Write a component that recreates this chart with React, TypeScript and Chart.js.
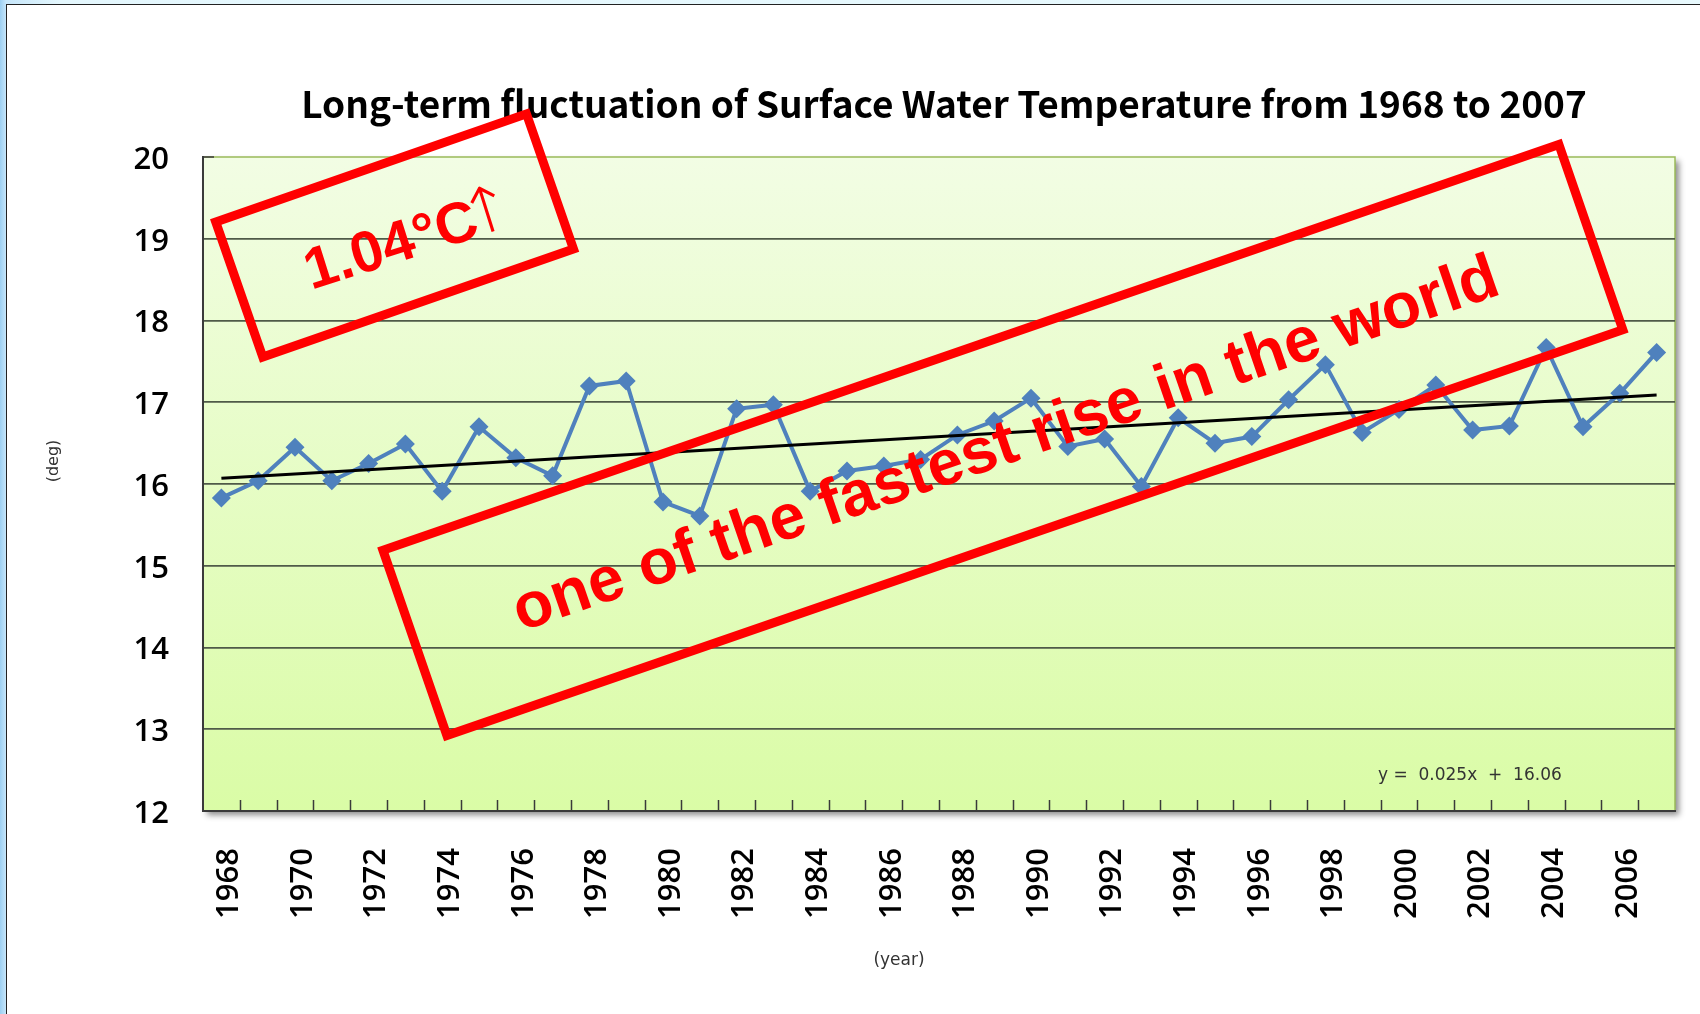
import React, { useEffect, useRef } from 'react';
import { Chart, registerables } from 'chart.js';

Chart.register(...registerables);

// ---------- data ----------
const years = [
  '1968', '1969', '1970', '1971', '1972', '1973', '1974', '1975', '1976', '1977',
  '1978', '1979', '1980', '1981', '1982', '1983', '1984', '1985', '1986', '1987',
  '1988', '1989', '1990', '1991', '1992', '1993', '1994', '1995', '1996', '1997',
  '1998', '1999', '2000', '2001', '2002', '2003', '2004', '2005', '2006', '2007',
];

const temperature = [
  15.83, 16.04, 16.45, 16.04, 16.25, 16.49, 15.91, 16.70, 16.32, 16.10,
  17.20, 17.26, 15.78, 15.61, 16.92, 16.97, 15.91, 16.16, 16.22, 16.30,
  16.60, 16.77, 17.05, 16.46, 16.55, 15.97, 16.81, 16.50, 16.58, 17.03,
  17.46, 16.63, 16.91, 17.21, 16.66, 16.71, 17.67, 16.70, 17.11, 17.61,
];

// trend line end values
const trendStart = 16.07;
const trendEnd = 17.09;

const yMin = 12;
const yMax = 20;

const titleText = 'Long-term fluctuation of Surface Water Temperature from 1968 to 2007';
const yAxisTitle = '(deg)';
const xAxisTitle = '(year)';
const equationText = 'y =  0.025x  +  16.06';
const note1Digits = '1.04';
const note1Unit = '°C';
const note1Arrow = '↑';
const note2Text = 'one of the fastest rise in the world';

// annotation anchors in data space (category index, value)
const note1Anchor = [4.707, 19.04];
const note2Anchor = [21.236, 16.538];

// ---------- styles ----------
const BLUE = '#4f81bd';
const RED = '#ff0000';
const GRID = '#4f5a48';
const AXIS = '#3a3a3a';
const LABEL_FONT = '"Open Sans", "Noto Sans", sans-serif';

function drawRotatedBox(ctx: CanvasRenderingContext2D, cx: number, cy: number, w: number, h: number, deg: number) {
  ctx.save();
  ctx.translate(cx, cy);
  ctx.rotate((deg * Math.PI) / 180);
  ctx.strokeStyle = RED;
  ctx.lineWidth = 9;
  ctx.lineJoin = 'miter';
  ctx.strokeRect(-w / 2, -h / 2, w, h);
  ctx.restore();
}

const decorPlugin = {
  id: 'decor',
  beforeDraw(chart: any) {
    const { ctx, chartArea: a } = chart;
    // plot background with shadow
    ctx.save();
    const g = ctx.createLinearGradient(0, a.top, 0, a.bottom);
    g.addColorStop(0, '#f2fde4');
    g.addColorStop(1, '#dafca6');
    ctx.shadowColor = 'rgba(0,0,0,0.45)';
    ctx.shadowBlur = 6;
    ctx.shadowOffsetX = 4;
    ctx.shadowOffsetY = 4;
    ctx.fillStyle = g;
    ctx.fillRect(a.left, a.top, a.right - a.left, a.bottom - a.top);
    ctx.restore();

    // green top/right border
    ctx.save();
    ctx.strokeStyle = '#9bbb59';
    ctx.lineWidth = 1.5;
    ctx.beginPath();
    ctx.moveTo(a.left, a.top);
    ctx.lineTo(a.right, a.top);
    ctx.lineTo(a.right, a.bottom);
    ctx.stroke();
    ctx.restore();

    // title
    ctx.save();
    ctx.fillStyle = '#000';
    ctx.font = 'bold 37px "Noto Sans CJK KR", "Noto Sans", sans-serif';
    ctx.textAlign = 'center';
    ctx.textBaseline = 'alphabetic';
    ctx.fillText(titleText, (a.left + a.right) / 2 + 5, 118);
    ctx.restore();
  },
  beforeDatasetsDraw(chart: any) {
    const { ctx, chartArea: a, scales } = chart;
    const xs = scales.x;
    ctx.save();
    ctx.strokeStyle = AXIS;
    ctx.lineWidth = 1.5;
    ctx.beginPath();
    for (let i = 1; i < years.length; i++) {
      const x = Math.round(xs.getPixelForValue(i - 0.5)) + 0.5;
      ctx.moveTo(x, a.bottom);
      ctx.lineTo(x, a.bottom - 11);
    }
    // small inward tick at the top of y axis
    ctx.moveTo(a.left, a.top);
    ctx.lineTo(a.left + 11, a.top);
    ctx.stroke();
    ctx.restore();
  },
  afterDraw(chart: any) {
    const { ctx, chartArea: a, scales } = chart;
    const xs = scales.x;
    const ys = scales.y;

    // axis titles
    ctx.save();
    ctx.fillStyle = '#333';
    ctx.font = '16px "DejaVu Sans", sans-serif';
    ctx.textAlign = 'center';
    ctx.textBaseline = 'middle';
    ctx.translate(54, 461);
    ctx.rotate(-Math.PI / 2);
    ctx.fillText(yAxisTitle, 0, 0);
    ctx.restore();

    ctx.save();
    ctx.fillStyle = '#333';
    ctx.font = '17px "DejaVu Sans", sans-serif';
    ctx.textAlign = 'center';
    ctx.textBaseline = 'middle';
    ctx.fillText(xAxisTitle, 899, 961);
    ctx.restore();

    // regression equation
    ctx.save();
    ctx.fillStyle = '#333';
    ctx.font = '17px "DejaVu Sans", sans-serif';
    ctx.textAlign = 'left';
    ctx.textBaseline = 'alphabetic';
    ctx.fillText(equationText, a.right - 297, 780);
    ctx.restore();

    // annotation 1
    const c1x = xs.getPixelForValue(note1Anchor[0]);
    const c1y = ys.getPixelForValue(note1Anchor[1]);
    drawRotatedBox(ctx, c1x, c1y, 329, 143, -19.2);
    ctx.save();
    ctx.translate(c1x + 2.4, c1y + 24);
    ctx.rotate((-17.5 * Math.PI) / 180);
    ctx.fillStyle = RED;
    ctx.textBaseline = 'alphabetic';
    ctx.textAlign = 'left';
    const fDigits = 'bold 58px "Liberation Sans", Arial, sans-serif';
    const fUnit = 'bold 58px "Liberation Sans Narrow", "Liberation Sans", sans-serif';
    const fArrow = '200 64px "DejaVu Sans", sans-serif';
    ctx.font = fDigits;
    const w1 = ctx.measureText(note1Digits).width;
    ctx.font = fUnit;
    const w2 = ctx.measureText(note1Unit).width;
    const start = -91;
    ctx.font = fDigits;
    ctx.fillText(note1Digits, start, 3);
    ctx.font = fUnit;
    ctx.fillText(note1Unit, start + w1 + 1, 3);
    ctx.font = fArrow;
    ctx.textAlign = 'center';
    ctx.fillText(note1Arrow, start + w1 + w2 + 13, 2);
    ctx.restore();

    // annotation 2
    const c2x = xs.getPixelForValue(note2Anchor[0]);
    const c2y = ys.getPixelForValue(note2Anchor[1]);
    drawRotatedBox(ctx, c2x, c2y, 1244, 196, -19.04);
    ctx.save();
    ctx.translate(c2x + 9, c2y + 22.5);
    ctx.rotate((-19 * Math.PI) / 180);
    ctx.fillStyle = RED;
    ctx.font = 'bold 64px "Liberation Sans", Arial, sans-serif';
    ctx.textAlign = 'center';
    ctx.textBaseline = 'alphabetic';
    ctx.fillText(note2Text, 0, 0);
    ctx.restore();
  },
};

export default function App() {
  const canvasRef = useRef<HTMLCanvasElement>(null);

  useEffect(() => {
    const canvas = canvasRef.current;
    if (!canvas) return;
    const chart = new Chart(canvas, {
      type: 'line',
      data: {
        labels: years,
        datasets: [
          {
            label: 'trend',
            data: years.map((_, i) => (i === 0 ? trendStart : i === years.length - 1 ? trendEnd : null)),
            spanGaps: true,
            borderColor: '#000',
            borderWidth: 3,
            pointRadius: 0,
            fill: false,
            order: 0,
          },
          {
            label: 'temperature',
            data: temperature,
            borderColor: BLUE,
            backgroundColor: BLUE,
            borderWidth: 4,
            pointStyle: 'rectRot',
            pointRadius: 9.5,
            pointBackgroundColor: BLUE,
            pointBorderColor: BLUE,
            pointBorderWidth: 0,
            tension: 0,
            fill: false,
            order: 1,
          },
        ],
      },
      options: {
        responsive: false,
        animation: false,
        devicePixelRatio: 1,
        layout: { padding: { left: 0, right: 25, top: 157, bottom: 0 } },
        plugins: {
          legend: { display: false },
          tooltip: { enabled: false },
          title: { display: false },
        },
        scales: {
          x: {
            type: 'category',
            offset: true,
            grid: { display: false, offset: true, drawTicks: false },
            border: { display: true, color: AXIS, width: 2 },
            ticks: {
              autoSkip: false,
              maxRotation: 90,
              minRotation: 90,
              padding: 37,
              labelOffset: 8,
              color: '#000',
              font: { family: LABEL_FONT, size: 31, weight: '600' },
              callback: (_v: any, i: number) => (i % 2 === 0 ? years[i] : ''),
            },
            afterFit: (s: any) => {
              s.height = 1014 - 811;
              s.paddingLeft = 0;
              s.paddingRight = 0;
            },
          },
          y: {
            min: yMin,
            max: yMax,
            ticks: {
              stepSize: 1,
              padding: 34,
              labelOffset: 3,
              color: '#000',
              font: { family: LABEL_FONT, size: 31, weight: '600' },
            },
            grid: {
              drawTicks: false,
              lineWidth: 1.8,
              color: (c: any) =>
                c.tick && (c.tick.value === yMax || c.tick.value === yMin) ? 'rgba(0,0,0,0)' : GRID,
            },
            border: { display: true, color: AXIS, width: 2 },
            afterFit: (s: any) => {
              s.width = 203;
            },
          },
        },
      },
      plugins: [decorPlugin],
    } as any);
    return () => chart.destroy();
  }, []);

  return (
    <div
      style={{
        position: 'fixed',
        left: 0,
        top: 0,
        width: 1700,
        height: 1014,
        overflow: 'hidden',
        background: 'linear-gradient(90deg, #9ccff2 0px, #c6e6fa 6px, #e4f7fd 60px, #e8f9fd 100%)',
      }}
    >
      <div
        style={{
          position: 'absolute',
          left: 6,
          top: 4,
          right: 0,
          bottom: 0,
          background: '#fff',
          borderLeft: '1.5px solid #222',
          borderTop: '1.5px solid #222',
        }}
      />
      <canvas
        ref={canvasRef}
        width={1700}
        height={1014}
        style={{ position: 'absolute', left: 0, top: 0, width: 1700, height: 1014 }}
      />
    </div>
  );
}
